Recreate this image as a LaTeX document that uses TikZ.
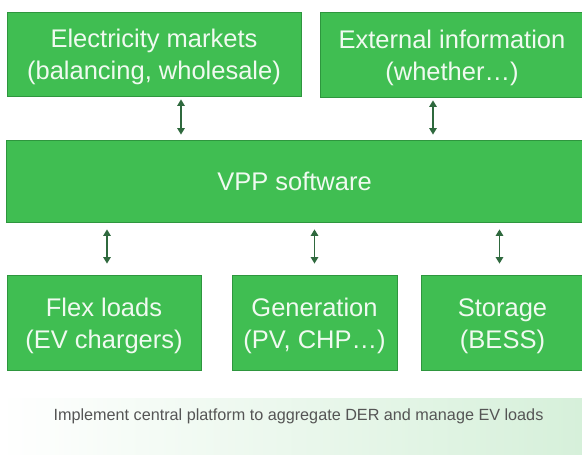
\documentclass[tikz,border=0pt]{standalone}
\usepackage{fontspec}
\setmainfont{Liberation Sans}
\usetikzlibrary{arrows.meta}
\definecolor{boxgreen}{RGB}{64,190,82}
\definecolor{boxedge}{RGB}{46,150,62}
\definecolor{boxtext}{RGB}{240,250,240}
\definecolor{arrowgreen}{RGB}{47,105,62}
\definecolor{bandgreen}{RGB}{214,240,218}
\definecolor{captiongray}{RGB}{85,85,85}
\newcommand\boxlines[1]{\raisebox{-3.5pt}[\height][\depth]{\begin{tabular}{@{}c@{}}#1\end{tabular}}}
\begin{document}
\begin{tikzpicture}[x=1pt,y=1pt,
  greenbox/.style={draw=boxedge, line width=0.8pt, fill=boxgreen, text=boxtext,
    minimum width=#1, inner sep=0pt,
    font=\fontsize{25.5}{32}\selectfont},
  link/.style={draw=arrowgreen, line width=1.4pt,
    {Triangle[length=6.5pt,width=7.5pt]}-{Triangle[length=6.5pt,width=7.5pt]}}
]
\useasboundingbox (0,0) rectangle (582,455);
\fill[white] (0,0) rectangle (582,455);
% caption band
\shade[left color=white, right color=bandgreen] (0,0) rectangle (582,56);
\node[text=captiongray, font=\fontsize{16.2}{19}\selectfont] (cap) at (298.5,39)
  {Implement central platform to aggregate DER and manage EV loads};
% top boxes
\node[greenbox=294pt, minimum height=84pt] (em) at (154,401)
  {\boxlines{Electricity markets\\(balancing, wholesale)}};
\node[greenbox=264pt, minimum height=85pt] (ext) at (452,400.5)
  {\boxlines{External information\\(whether\ldots)}};
% VPP
\node[greenbox=577pt, minimum height=82pt] (vpp) at (294.5,274)
  {\boxlines{VPP software}};
% bottom boxes
\node[greenbox=194pt, minimum height=95pt] (flex) at (104,132.5)
  {\boxlines{Flex loads\\(EV chargers)}};
\node[greenbox=165pt, minimum height=95pt] (gen) at (314.5,132.5)
  {\boxlines{Generation\\(PV, CHP\ldots)}};
\node[greenbox=163pt, minimum height=95pt] (sto) at (502.5,132.5)
  {\boxlines{Storage\\(BESS)}};
% connectors
\draw[link, shorten <=3pt, shorten >=5pt] ([xshift=27pt]em.south) -- ([xshift=27pt]em.south |- vpp.north);
\draw[link, shorten <=3pt, shorten >=5pt] ([xshift=-19pt]ext.south) -- ([xshift=-19pt]ext.south |- vpp.north);
\draw[link, shorten <=7pt, shorten >=11pt] ([xshift=3pt]flex.north |- vpp.south) -- ([xshift=3pt]flex.north);
\draw[link, shorten <=7pt, shorten >=11pt] (gen.north |- vpp.south) -- (gen.north);
\draw[link, shorten <=7pt, shorten >=11pt] ([xshift=-3pt]sto.north |- vpp.south) -- ([xshift=-3pt]sto.north);
\end{tikzpicture}
\end{document}
